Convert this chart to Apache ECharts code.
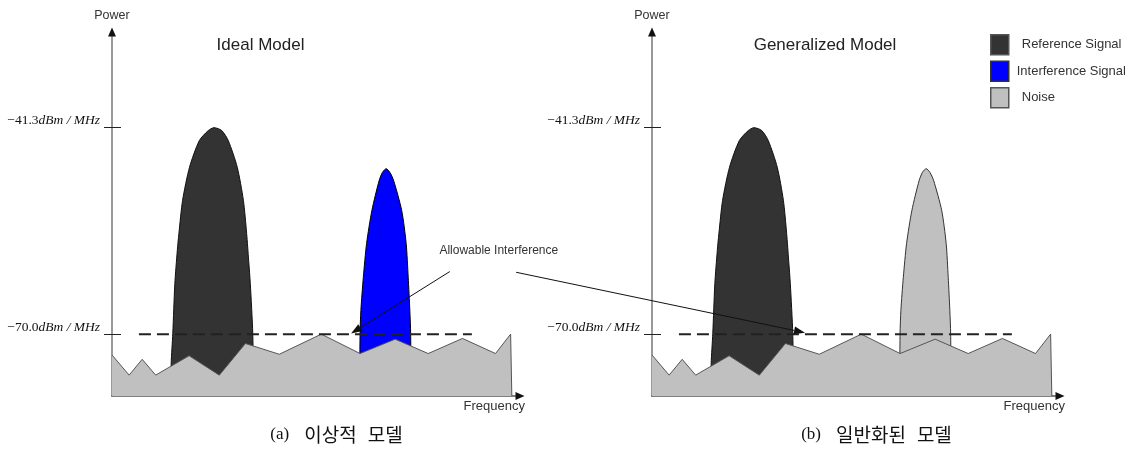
<!DOCTYPE html>
<html><head><meta charset="utf-8">
<script src="https://cdn.jsdelivr.net/npm/echarts@6/dist/echarts.min.js"></script>
<style>html,body{margin:0;padding:0;background:#fff}#c{width:1133px;height:450px}</style>
</head><body><div id="c"></div>
<script>
// ---- text ----
const panelTitles = ['Ideal Model', 'Generalized Model'];
const panelCaptions = [['(a)', '이상적', '모델'], ['(b)', '일반화된', '모델']];
const legendNames = ['Reference Signal', 'Interference Signal', 'Noise'];
const xAxisName = 'Frequency';
const yAxisName = 'Power';
const powerUnit = 'dBm / MHz';
const calloutText = 'Allowable Interference';

// ---- axes (frequency in arbitrary units, power in dBm/MHz) ----
const freqRange = [0, 100];
const powerRange = [-78.6, -28];
const powerTicks = [-70.0, -41.3];

// ---- noise floor (same in both panels) ----
const noiseFreq  = [0, 4.2, 7.4, 10.7, 18.9, 26.3, 32.7, 41.0, 51.3, 60.8, 69.4, 77.5, 85.9, 94.0, 97.7, 98.0];
const noisePower = [-72.9, -75.7, -73.5, -75.7, -73.0, -75.7, -71.3, -72.8, -70.0, -72.7, -70.7, -72.7, -70.6, -72.7, -70.0, -78.6];

// ---- reference signal spectrum (outline) ----
const refFreq  = [14.4, 14.5, 14.9, 15.4, 16.0, 16.4, 17.3, 19.0, 21.4, 23.6, 25.0, 26.9, 28.5, 30.7, 32.2, 33.0, 33.5, 33.9, 34.5, 34.7];
const refPower = [-78.6, -74.1, -69.9, -63.0, -58.4, -56.0, -51.4, -46.8, -43.1, -41.7, -41.3, -41.7, -43.1, -46.8, -51.4, -56.0, -59.8, -63.0, -69.9, -78.6];

// ---- interference signal spectrum (outline) ----
const intFreq  = [60.7, 60.8, 61.0, 61.6, 62.4, 63.7, 65.5, 66.3, 67.2, 68.1, 69.0, 71.0, 72.1, 72.6, 73.0, 73.2, 73.3];
const intPower = [-78.6, -69.9, -66.7, -62.1, -57.4, -52.8, -48.6, -47.5, -47.0, -47.5, -48.6, -52.8, -57.4, -62.1, -66.7, -69.9, -78.6];

// ---- allowable interference level ----
const allowFreq  = [6.6, 88.2];
const allowPower = [-70.0, -70.0];

// ---- callout (text anchor in panel a, arrows [from f, from p, to f, to p]) ----
const calloutAnchor = [94.8, -58.4];
const arrowA = [82.8, -61.3, 58.6, -69.9];
const arrowB = [-33.3, -61.4, 37.5, -69.8];

const zip = (a, b) => a.map((v, i) => [v, b[i]]);

const grids = [
  {left: 112, top: 32, width: 408, height: 364},
  {left: 652, top: 32, width: 408, height: 364}
];

const xAxes = [], yAxes = [], series = [];
const fmtTick = v => '{a|' + v.toFixed(1).replace('-', '\u2212') + '}{b|' + powerUnit + '}';

grids.forEach((g, gi) => {
  xAxes.push({
    type: 'value', gridIndex: gi, min: freqRange[0], max: freqRange[1], position: 'bottom',
    axisLine: {onZero: false, lineStyle: {color: '#555', width: 1.5}},
    axisTick: {show: false}, axisLabel: {show: false}, splitLine: {show: false},
    name: xAxisName, nameLocation: 'end', nameGap: 5,
    nameTextStyle: {align: 'right', verticalAlign: 'top', padding: [4, 0, 0, 0], fontSize: 13, color: '#333', fontFamily: 'Liberation Sans'}
  });
  xAxes.push({
    type: 'value', gridIndex: gi, min: freqRange[0], max: freqRange[1], position: 'bottom',
    axisLine: {onZero: false, symbol: ['none', 'triangle'], symbolSize: [8, 9], lineStyle: {color: '#111', width: 1, opacity: 0}},
    axisTick: {show: false}, axisLabel: {show: false}, splitLine: {show: false}
  });
  yAxes.push({
    type: 'value', gridIndex: gi, min: powerRange[0], max: powerRange[1], position: 'left',
    axisLine: {onZero: false, lineStyle: {color: '#999', width: 2}},
    axisTick: {show: true, customValues: powerTicks, length: 8, lineStyle: {color: '#222', width: 1}},
    axisLabel: {
      customValues: powerTicks, margin: 12, verticalAlign: 'bottom', formatter: fmtTick,
      rich: {
        a: {fontFamily: 'Liberation Serif', fontSize: 13.5, color: '#111'},
        b: {fontFamily: 'Liberation Serif', fontStyle: 'italic', fontSize: 13.5, color: '#111'}
      }
    },
    splitLine: {show: false},
    name: yAxisName, nameLocation: 'end', nameGap: 10,
    nameTextStyle: {align: 'center', verticalAlign: 'bottom', fontSize: 12.5, color: '#333', fontFamily: 'Liberation Sans'}
  });
  yAxes.push({
    type: 'value', gridIndex: gi, min: powerRange[0], max: powerRange[1], position: 'left',
    axisLine: {onZero: false, symbol: ['none', 'triangle'], symbolSize: [8, 9], lineStyle: {color: '#111', width: 1, opacity: 0}},
    axisTick: {show: true, inside: true, customValues: powerTicks, length: 9, lineStyle: {color: '#222', width: 1}},
    axisLabel: {show: false}, splitLine: {show: false}
  });

  const ax = {xAxisIndex: gi * 2, yAxisIndex: gi * 2};
  const base = {type: 'line', symbol: 'none', silent: true, animation: false};

  series.push(Object.assign({}, base, ax, {
    name: legendNames[0], data: zip(refFreq, refPower), smooth: 0.25, z: 2,
    itemStyle: {color: '#333'}, lineStyle: {color: '#111', width: 1},
    areaStyle: {color: '#333', opacity: 1, origin: 'start'}
  }));
  series.push(Object.assign({}, base, ax, gi === 0 ? {
    name: legendNames[1], itemStyle: {color: '#0000ff'}, lineStyle: {color: '#000', width: 1},
    areaStyle: {color: '#0000ff', opacity: 1, origin: 'start'}
  } : {
    name: legendNames[2], itemStyle: {color: '#c0c0c0'}, lineStyle: {color: '#333', width: 1},
    areaStyle: {color: '#c0c0c0', opacity: 1, origin: 'start'}
  }, {data: zip(intFreq, intPower), smooth: 0.25, z: 3}));
  series.push(Object.assign({}, base, ax, {
    name: legendNames[2], data: zip(noiseFreq, noisePower), z: 4,
    itemStyle: {color: '#c0c0c0'}, lineStyle: {color: '#555', width: 1},
    areaStyle: {color: '#c0c0c0', opacity: 1, origin: 'start'}
  }));
  series.push(Object.assign({}, base, ax, {
    name: 'Allowable level', data: zip(allowFreq, allowPower), z: 5,
    lineStyle: {color: '#222', width: 2, type: [12, 6]}
  }));
  series.push(Object.assign({}, ax, {
    type: 'custom', name: 'Callout arrow', silent: true, animation: false, clip: false, z: 6,
    encode: {x: [0, 2], y: [1, 3]},
    data: [gi === 0 ? arrowA : arrowB],
    renderItem: (params, api) => {
      const p0 = api.coord([api.value(0), api.value(1)]);
      const p1 = api.coord([api.value(2), api.value(3)]);
      const dx = p1[0] - p0[0], dy = p1[1] - p0[1];
      const len = Math.hypot(dx, dy), ux = dx / len, uy = dy / len;
      const hl = 11, hw = 4;
      const b = [p1[0] - ux * hl, p1[1] - uy * hl];
      return {type: 'group', children: [
        {type: 'line', shape: {x1: p0[0], y1: p0[1], x2: b[0], y2: b[1]}, style: {stroke: '#111', lineWidth: 1}},
        {type: 'polygon', shape: {points: [p1, [b[0] - uy * hw, b[1] + ux * hw], [b[0] + uy * hw, b[1] - ux * hw]]}, style: {fill: '#111'}}
      ]};
    }
  }));
  if (gi === 0) {
    series.push(Object.assign({}, ax, {
      type: 'custom', name: 'Callout text', silent: true, animation: false, clip: false, z: 6,
      encode: {x: 0, y: 1}, data: [calloutAnchor],
      renderItem: (params, api) => {
        const p = api.coord([api.value(0), api.value(1)]);
        return {type: 'text', x: p[0], y: p[1], style: {text: calloutText, fill: '#333', font: '12px "Liberation Sans"', align: 'center', verticalAlign: 'middle'}};
      }
    }));
  }
});

const titleStyle = {fontSize: 17, fontWeight: 'normal', color: '#222', fontFamily: 'Liberation Sans'};
const capRich = {
  s: {fontFamily: 'Liberation Serif', fontSize: 17, fontWeight: 'normal', color: '#111'},
  k: {fontFamily: '"Noto Sans CJK KR"', fontSize: 19, fontWeight: 'normal', color: '#111'},
  g1: {width: 15, fontSize: 12},
  g2: {width: 11, fontSize: 12}
};
const titleX = [260.5, 825];
const capX = [336.5, 876.5];
const titles = [];
panelTitles.forEach((t, i) => titles.push({text: t, left: titleX[i], top: 37, padding: 0, textAlign: 'center', textStyle: titleStyle}));
panelCaptions.forEach((c, i) => titles.push({
  text: '{s|' + c[0] + '}{g1| }{k|' + c[1] + '}{g2| }{k|' + c[2] + '}',
  left: capX[i], top: 425, padding: 0, textAlign: 'center',
  textStyle: {fontWeight: 'normal', fontSize: 17, rich: capRich}
}));

const legendColors = [['#333333', '#555'], ['#0000ff', '#333'], ['#c0c0c0', '#555']];
const legendPad = [8, 3, 8];

const chart = echarts.init(document.getElementById('c'));
chart.setOption({
  backgroundColor: '#fff',
  animation: false,
  title: titles,
  legend: {
    orient: 'vertical', left: 990, top: 34, itemWidth: 18, itemHeight: 20, itemGap: 5, padding: 0,
    selectedMode: false,
    textStyle: {fontSize: 13, color: '#333', fontFamily: 'Liberation Sans'},
    data: legendNames.map((n, i) => ({
      name: n, icon: 'rect',
      itemStyle: {color: legendColors[i][0], borderColor: legendColors[i][1], borderWidth: 1.5},
      textStyle: {padding: [0, 0, 0, legendPad[i]]}
    }))
  },
  grid: grids,
  xAxis: xAxes,
  yAxis: yAxes,
  series: series
});
</script>
</body></html>
